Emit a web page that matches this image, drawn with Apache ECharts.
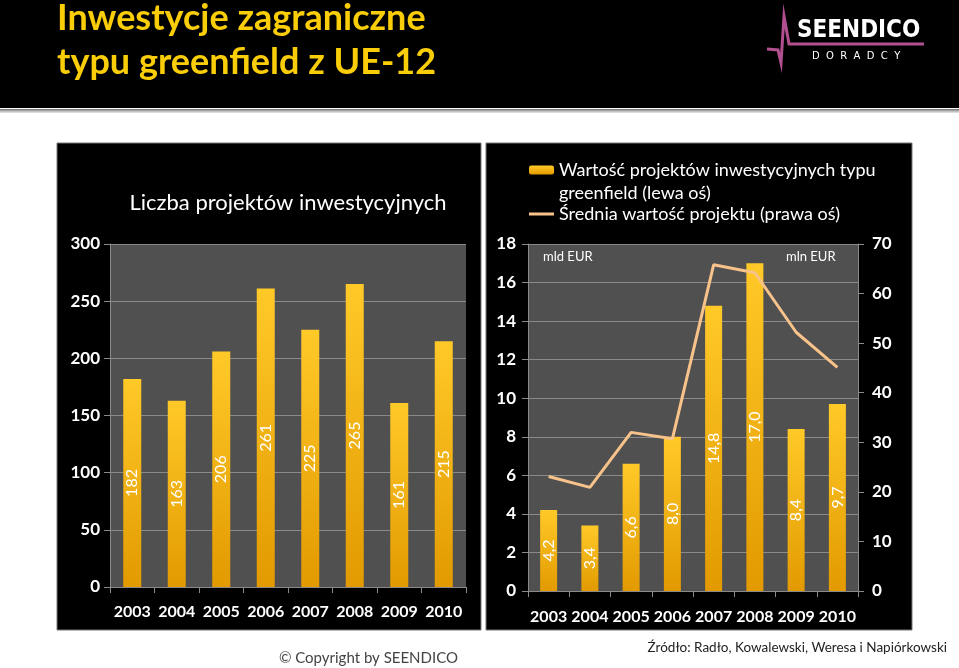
<!DOCTYPE html>
<html><head><meta charset="utf-8">
<script src="https://cdn.jsdelivr.net/npm/echarts@6/dist/echarts.min.js"></script>
<style>html,body{margin:0;padding:0;background:#fff}#c{width:959px;height:668px}</style>
</head><body><div id="c"></div>
<script>
// ---- data ----
const years = ['2003', '2004', '2005', '2006', '2007', '2008', '2009', '2010'];
const projectCounts = [182, 163, 206, 261, 225, 265, 161, 215];
const projectValues = [4.2, 3.4, 6.6, 8.0, 14.8, 17.0, 8.4, 9.7];        // mld EUR
const avgProjectValue = [23.1, 20.9, 32.0, 30.7, 65.8, 64.2, 52.2, 45.1]; // mln EUR
const countTicks = [0, 50, 100, 150, 200, 250, 300];
const valueTicks = [0, 2, 4, 6, 8, 10, 12, 14, 16, 18];
const avgTicks = [0, 10, 20, 30, 40, 50, 60, 70];

const FONT = "Lato, 'Open Sans', sans-serif";
const barGrad = new echarts.graphic.LinearGradient(0, 0, 0, 1, [
  { offset: 0, color: '#ffc928' }, { offset: 1, color: '#e29a00' }
]);
const axisLabel = { color: '#fff', fontSize: 17, fontWeight: 'bold', fontFamily: FONT };
const grayLine = { lineStyle: { color: '#8a8a8a', width: 1 } };
const fmtComma = v => v.toFixed(1).replace('.', ',');
const TITLE_COLOR = '#f9cd08';

const chart = echarts.init(document.getElementById('c'), null, { renderer: 'canvas' });
chart.setOption({
  backgroundColor: '#ffffff',
  animation: false,
  textStyle: { fontFamily: FONT },
  graphic: [
    { type: 'rect', z: -10, shape: { x: 0, y: 0, width: 959, height: 108 }, style: { fill: '#000' } },
    { type: 'rect', z: -10, shape: { x: 0, y: 109, width: 959, height: 4 },
      style: { fill: new echarts.graphic.LinearGradient(0, 0, 0, 1, [
        { offset: 0, color: '#6a6a6a' }, { offset: 0.5, color: '#b5b5b5' }, { offset: 1, color: '#e8e8e8' }]) } },
    { type: 'rect', z: -10, shape: { x: 57, y: 143, width: 424, height: 487 }, style: { fill: '#000', stroke: '#777', lineWidth: 1 } },
    { type: 'rect', z: -10, shape: { x: 486, y: 143, width: 426, height: 487 }, style: { fill: '#000', stroke: '#777', lineWidth: 1 } },
    { type: 'text', x: 57, y: 0, style: { text: 'Inwestycje zagraniczne', fontSize: 36, fontWeight: 'bold', fontFamily: FONT, fill: TITLE_COLOR } },
    { type: 'text', x: 57, y: 44, style: { text: 'typu greenfield z UE-12', fontSize: 36, fontWeight: 'bold', fontFamily: FONT, fill: TITLE_COLOR } },
    { type: 'polyline', shape: { points: [[767, 49], [778, 50], [781, 63], [784, 16], [789, 44], [924, 44]] },
      style: { stroke: '#b24f8f', lineWidth: 3, fill: null } },
    { type: 'text', x: 797, y: 19, style: { text: 'SEENDICO', fontSize: 24, fontWeight: 'bold', fontFamily: "'DejaVu Sans Condensed', 'Liberation Sans Narrow', sans-serif", fill: '#fff' } },
    { type: 'text', x: 812, y: 51, style: { text: 'D  O  R  A  D  C  Y', fontSize: 10, fontFamily: "'DejaVu Sans', sans-serif", fill: '#fff' } },
    { type: 'text', x: 543, y: 250, style: { text: 'mld EUR', fontSize: 13, fontFamily: FONT, fill: '#fff' } },
    { type: 'text', x: 786, y: 250, style: { text: 'mln EUR', fontSize: 13, fontFamily: FONT, fill: '#fff' } },
    { type: 'text', x: 559, y: 184, style: { text: 'greenfield (lewa oś)', fontSize: 18, fontFamily: FONT, fill: '#fff' } },
    { type: 'text', x: 947, y: 641, style: { text: 'Źródło: Radło, Kowalewski, Weresa i Napiórkowski', fontSize: 13.5, fontFamily: FONT, fill: '#222', align: 'right' } },
    { type: 'text', x: 458, y: 651, style: { text: '© Copyright by SEENDICO', fontSize: 15, fontFamily: FONT, fill: '#444', align: 'right' } }
  ],
  title: {
    text: 'Liczba projektów inwestycyjnych', left: 283, top: 187, textAlign: 'center',
    textStyle: { color: '#fff', fontSize: 22, fontWeight: 'normal', fontFamily: FONT }
  },
  legend: [
    { data: ['Wartość projektów inwestycyjnych typu greenfield (lewa oś)'], left: 529, top: 161, itemWidth: 25, itemHeight: 9, padding: 0,
      formatter: () => 'Wartość projektów inwestycyjnych typu', textStyle: { color: '#fff', fontSize: 18, fontFamily: FONT } },
    { data: [{ name: 'Średnia wartość projektu (prawa oś)', icon: 'rect' }], left: 529, top: 205, itemWidth: 25, itemHeight: 3, padding: 0,
      textStyle: { color: '#fff', fontSize: 18, fontFamily: FONT } }
  ],
  grid: [
    { left: 110, right: 493, top: 244, bottom: 81, show: true, backgroundColor: '#505050', borderWidth: 0 },
    { left: 528, right: 101, top: 244, bottom: 77, show: true, backgroundColor: '#505050', borderWidth: 0 }
  ],
  xAxis: [
    { type: 'category', gridIndex: 0, data: years, axisLine: grayLine, axisTick: { show: true, length: 6, ...grayLine },
      axisLabel: { ...axisLabel, fontSize: 16, margin: 17, interval: 0 } },
    { type: 'category', gridIndex: 1, data: years, axisLine: grayLine, axisTick: { show: true, length: 6, ...grayLine },
      axisLabel: { ...axisLabel, fontSize: 16, margin: 18, interval: 0 } }
  ],
  yAxis: [
    { type: 'value', gridIndex: 0, min: countTicks[0], max: countTicks[countTicks.length - 1], interval: countTicks[1] - countTicks[0],
      axisLine: { show: true, ...grayLine }, axisTick: { show: true, length: 6, ...grayLine },
      splitLine: grayLine, axisLabel: { ...axisLabel, margin: 10 } },
    { type: 'value', gridIndex: 1, min: valueTicks[0], max: valueTicks[valueTicks.length - 1], interval: valueTicks[1] - valueTicks[0],
      axisLine: { show: true, ...grayLine }, axisTick: { show: true, length: 6, ...grayLine },
      splitLine: grayLine, axisLabel: { ...axisLabel, margin: 12 } },
    { type: 'value', gridIndex: 1, position: 'right', min: avgTicks[0], max: avgTicks[avgTicks.length - 1], interval: avgTicks[1] - avgTicks[0],
      axisLine: { show: true, ...grayLine }, axisTick: { show: true, length: 6, ...grayLine },
      splitLine: { show: false }, axisLabel: { ...axisLabel, margin: 14 } }
  ],
  series: [
    { name: 'Liczba projektów', type: 'bar', xAxisIndex: 0, yAxisIndex: 0, data: projectCounts, barWidth: 18,
      itemStyle: { color: barGrad },
      label: { show: true, position: 'inside', rotate: 90, color: '#fff', fontSize: 16, fontFamily: FONT } },
    { name: 'Wartość projektów inwestycyjnych typu greenfield (lewa oś)', type: 'bar', xAxisIndex: 1, yAxisIndex: 1, data: projectValues, barWidth: 17,
      itemStyle: { color: barGrad },
      label: { show: true, position: 'inside', rotate: 90, color: '#fff', fontSize: 16, fontFamily: FONT, formatter: p => fmtComma(p.value) } },
    { name: 'Średnia wartość projektu (prawa oś)', type: 'line', xAxisIndex: 1, yAxisIndex: 2, data: avgProjectValue,
      symbol: 'none', lineStyle: { color: '#f8c38b', width: 3 }, itemStyle: { color: '#f8c38b' } }
  ]
});
</script></body></html>
